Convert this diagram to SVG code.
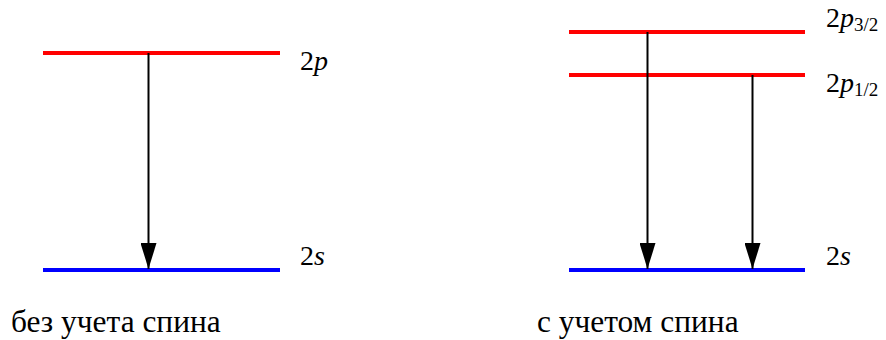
<svg xmlns="http://www.w3.org/2000/svg" width="886" height="340" viewBox="0 0 886 340">
<style>
.lvp{stroke:#ff0000;stroke-width:4;fill:none}
.lvs{stroke:#0000ff;stroke-width:4;fill:none}
.arr{stroke:#000;stroke-width:2;fill:none}
</style>
<defs>
<marker id="ah" markerUnits="userSpaceOnUse" markerWidth="26" markerHeight="16" refX="26" refY="8" orient="auto" viewBox="0 0 26 16">
<path d="M0,0 L26,8 L0,16 Z" fill="#000"/>
</marker>
</defs>
<g id="left-2p"><line class="lvp" x1="43" y1="53" x2="280" y2="53"/><text font-family="Times New Roman" font-size="28" x="300" y="70">2<tspan font-style="italic">p</tspan></text></g>
<g id="left-2s"><line class="lvs" x1="43" y1="270" x2="280" y2="270"/><text font-family="Times New Roman" font-size="28" x="300" y="265">2<tspan font-style="italic">s</tspan></text></g>
<g id="right-2p32"><line class="lvp" x1="569" y1="32" x2="805" y2="32"/><text font-family="Times New Roman" font-size="28" x="826" y="27">2<tspan font-style="italic">p</tspan><tspan font-size="19" dy="4">3/2</tspan></text></g>
<g id="right-2p12"><line class="lvp" x1="569" y1="75" x2="805" y2="75"/><text font-family="Times New Roman" font-size="28" x="826" y="92">2<tspan font-style="italic">p</tspan><tspan font-size="19" dy="4">1/2</tspan></text></g>
<g id="right-2s"><line class="lvs" x1="569" y1="270" x2="805" y2="270"/><text font-family="Times New Roman" font-size="28" x="826" y="265">2<tspan font-style="italic">s</tspan></text></g>
<g id="connectors">
<line class="arr" x1="148.5" y1="53" x2="148.5" y2="269" marker-end="url(#ah)"/>
<line class="arr" x1="647.5" y1="32" x2="647.5" y2="269" marker-end="url(#ah)"/>
<line class="arr" x1="752.5" y1="75" x2="752.5" y2="269" marker-end="url(#ah)"/>
</g>
<text font-family="Times New Roman" font-size="31.4" x="11" y="332">без учета спина</text>
<text font-family="Times New Roman" font-size="31.4" x="537" y="332">с учетом спина</text>
</svg>
